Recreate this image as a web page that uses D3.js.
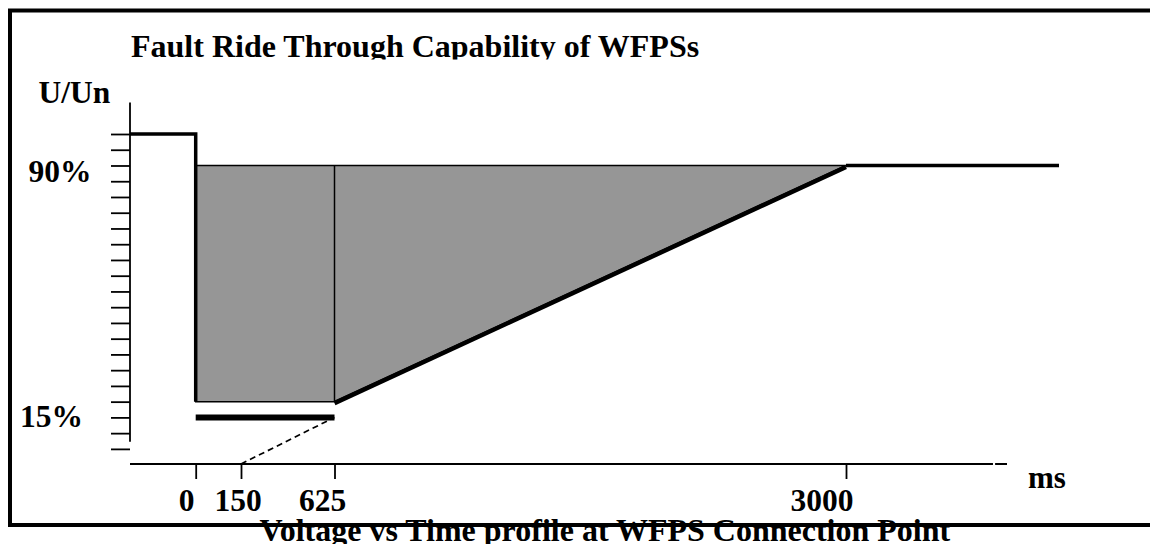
<!DOCTYPE html>
<html>
<head>
<meta charset="utf-8">
<script src="https://cdn.jsdelivr.net/npm/d3@7"></script>
<style>
  html, body { margin: 0; padding: 0; background: #fff; }
  svg { display: block; }
  text { font-family: "Liberation Serif", "Times New Roman", serif; font-weight: bold; fill: #000; }
</style>
</head>
<body>
<div id="chart"></div>
<script>
// ---- data (time in ms, voltage in % of Un) ----
const chartTitle = "Fault Ride Through Capability of WFPSs";
const bottomTitle = "Voltage vs Time profile at WFPS Connection Point";
const yAxisTitle = "U/Un";
const xAxisUnit = "ms";

const xTickValues = [0, 150, 625, 3000];
const xTickLabels = ["0", "150", "625", "3000"];
const yLabelValues = [90, 15];
const yLabelTexts = ["90%", "15%"];
const yMinorTicks = d3.range(0, 101, 5);

// voltage profile: pre-fault level and drop at fault instant
const preFaultTime = [-300, 0, 0];
const preFaultVolt = [100, 100, 15];
// FRT area (shaded)
const frtTime = [0, 3000, 625, 0];
const frtVolt = [90, 90, 15, 15];
// recovery ramp and post-fault level
const recoveryTime = [625, 3000];
const recoveryVolt = [15, 90];
const postFaultTime = [3000, 4000];
const postFaultVolt = [90, 90];
// minimum duration bar
const minBarTime = [0, 625];
const minBarVolt = [10, 10];
// dashed guide from 150 ms on the time axis
const guideTime = [150, 625];
const guideVolt = [-4.8, 10];

// ---- layout ----
const W = 1150, H = 544;
const svg = d3.select("#chart").append("svg").attr("width", W).attr("height", H);

// schematic (non-proportional) time axis: piecewise linear scale
const x = d3.scaleLinear()
  .domain([-300, 0, 150, 625, 3000, 4000])
  .range([130, 195.7, 241, 334.5, 846, 1059]);
const y = d3.scaleLinear().domain([-4.8, 100]).range([464, 134]);

const toPts = (ts, vs) => ts.map((t, i) => [x(t), y(vs[i])]);
const line = d3.line();

// clip for top title
svg.append("defs").append("clipPath").attr("id", "titleClip")
  .append("rect").attr("x", 0).attr("y", 0).attr("width", W).attr("height", 59.5);

// shaded FRT area
svg.append("path")
  .attr("d", line(toPts(frtTime, frtVolt)) + "Z")
  .attr("fill", "#969696").attr("stroke", "#000").attr("stroke-width", 1.5)
  .attr("stroke-linejoin", "miter");

// vertical divider at 625 ms
svg.append("line")
  .attr("x1", x(625)).attr("x2", x(625))
  .attr("y1", y(90)).attr("y2", y(15))
  .attr("stroke", "#000").attr("stroke-width", 1.5);

// pre-fault profile
svg.append("path")
  .attr("d", line(toPts(preFaultTime, preFaultVolt)))
  .attr("fill", "none").attr("stroke", "#000").attr("stroke-width", 3.5)
  .attr("stroke-linejoin", "miter");

// recovery ramp
svg.append("path")
  .attr("d", line(toPts(recoveryTime, recoveryVolt)))
  .attr("fill", "none").attr("stroke", "#000").attr("stroke-width", 4.5)
  .attr("transform", "translate(0,1.5)");

// post-fault level
svg.append("path")
  .attr("d", line(toPts(postFaultTime, postFaultVolt)))
  .attr("fill", "none").attr("stroke", "#000").attr("stroke-width", 3.5);

// minimum duration bar
svg.append("path")
  .attr("d", line(toPts(minBarTime, minBarVolt)))
  .attr("fill", "none").attr("stroke", "#000").attr("stroke-width", 6);

// dashed guide
svg.append("path")
  .attr("d", line(toPts(guideTime, guideVolt)))
  .attr("fill", "none").attr("stroke", "#000").attr("stroke-width", 1.7)
  .attr("stroke-dasharray", "6,4");

// y axis ticks
const yAxis = d3.axisLeft(y).tickValues(yMinorTicks).tickSize(19).tickFormat("").tickSizeOuter(0);
const gy = svg.append("g").attr("transform", "translate(130,0)").call(yAxis);
gy.select(".domain").remove();
gy.selectAll(".tick line").attr("stroke", "#000").attr("stroke-width", 1.8);
// y axis line
svg.append("line")
  .attr("x1", 130).attr("x2", 130)
  .attr("y1", y(110)).attr("y2", y(2.3))
  .attr("stroke", "#000").attr("stroke-width", 1.8);

// x axis
const xAxis = d3.axisBottom(x).tickValues(xTickValues).tickSize(15).tickFormat("").tickSizeOuter(0);
const gx = svg.append("g").attr("transform", `translate(0,${y(-4.8)})`).call(xAxis);
gx.select(".domain").remove();
gx.selectAll(".tick line").attr("stroke", "#000").attr("stroke-width", 1.8);
svg.append("line")
  .attr("x1", x(-300)).attr("x2", x(3690))
  .attr("y1", y(-4.8)).attr("y2", y(-4.8))
  .attr("stroke", "#000").attr("stroke-width", 2);
svg.append("line")
  .attr("x1", x(3700)).attr("x2", x(3756))
  .attr("y1", y(-4.8)).attr("y2", y(-4.8))
  .attr("stroke", "#000").attr("stroke-width", 2);

// x tick labels
const xLabelNudge = [-9, -3, -12, -24];
svg.selectAll(".xlab").data(xTickValues).enter().append("text")
  .attr("class", "xlab")
  .attr("x", (d, i) => x(d) + xLabelNudge[i])
  .attr("y", 510.5)
  .attr("text-anchor", "middle")
  .attr("font-size", 31.5)
  .text((d, i) => xTickLabels[i]);

// y labels
const yLabelPos = [{ x: 28.5, y: 182 }, { x: 20, y: 426.5 }];
svg.selectAll(".ylab").data(yLabelValues).enter().append("text")
  .attr("class", "ylab")
  .attr("x", (d, i) => yLabelPos[i].x)
  .attr("y", (d, i) => yLabelPos[i].y)
  .attr("font-size", 31.5)
  .text((d, i) => yLabelTexts[i]);

svg.append("text").attr("x", 38.5).attr("y", 102.5).attr("font-size", 31.5).text(yAxisTitle);
svg.append("text").attr("x", 1028).attr("y", 487.5).attr("font-size", 31).text(xAxisUnit);

// titles
svg.append("text").attr("x", 131).attr("y", 57).attr("font-size", 32)
  .attr("clip-path", "url(#titleClip)").text(chartTitle);
svg.append("text").attr("x", 259.5).attr("y", 541).attr("font-size", 32).text(bottomTitle);

// frame
svg.append("rect")
  .attr("x", 10).attr("y", 10.5).attr("width", 1160).attr("height", 514.5)
  .attr("fill", "none").attr("stroke", "#000").attr("stroke-width", 4);
</script>
</body>
</html>
